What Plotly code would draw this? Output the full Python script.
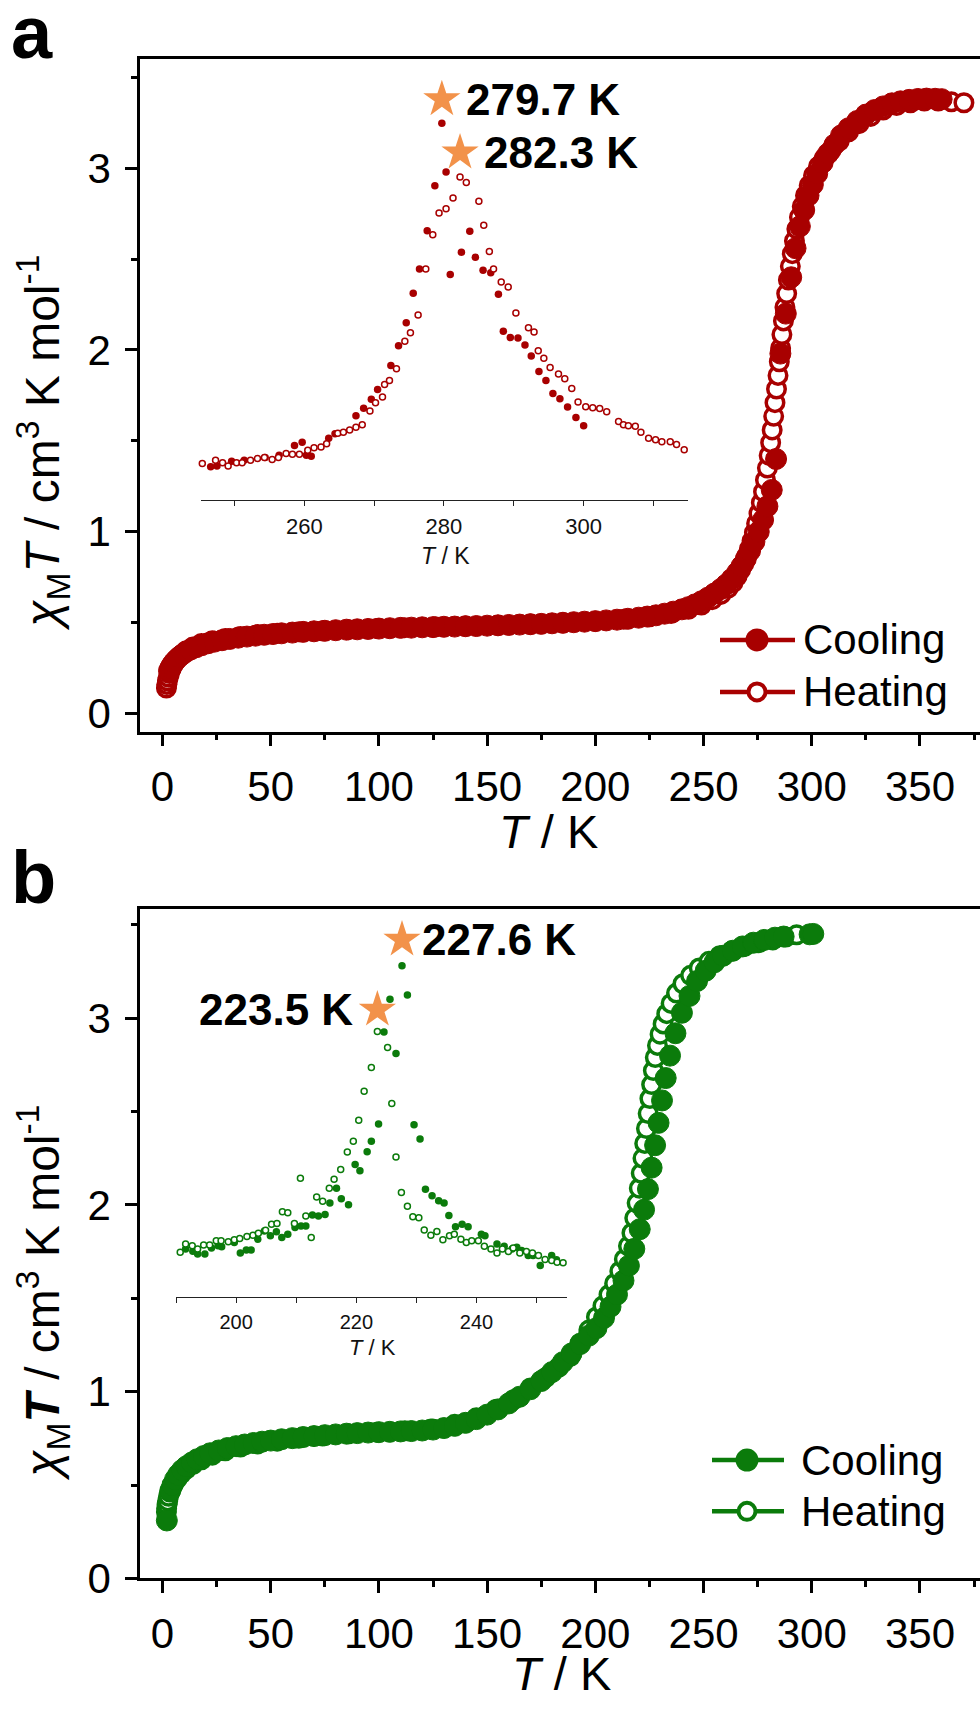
import plotly.graph_objects as go

W, H = 980, 1719
RED = "#A80000"
GREEN = "#0B7B0B"
STAR = "#F2924A"
FONT = "Liberation Sans, Arial, sans-serif"


def px(x):
    return x / W


def py(y):
    return 1 - y / H


# ---------------- panel a : chi_M T vs T ----------------
a_heat_T = [1.8, 2.0, 2.3, 2.7, 3.2, 4.0, 5.0, 6.5, 8.5, 11,
            14, 18, 23, 29, 36, 44, 53, 63, 74, 86,
            99, 112, 126, 140, 155, 170, 185, 200, 213, 225,
            235, 243, 249, 254, 258, 261.4, 263.6, 265.5, 267.1, 268.6,
            269.9, 271.2, 272.4, 273.5, 274.5, 275.6, 276.7, 277.7, 278.6, 279.5,
            280.3, 281.0, 281.7, 282.4, 283.0, 283.7, 284.4, 285.0, 285.6, 286.2,
            286.9, 287.6, 288.4, 289.2, 290.1, 291.0, 292.0, 293.1, 294.3, 295.6,
            297.1, 298.8, 300.8, 303.1, 305.8, 309.0, 312.7, 317.0, 321.8, 327.2,
            333.0, 339.2, 345.6, 352.0, 358.4, 364.5, 370.3]
a_heat_v = [0.14, 0.16, 0.18, 0.2, 0.22, 0.245, 0.27, 0.295, 0.32, 0.345,
            0.365, 0.385, 0.4, 0.413, 0.424, 0.434, 0.442, 0.449, 0.455, 0.461,
            0.467, 0.472, 0.477, 0.481, 0.486, 0.492, 0.499, 0.508, 0.518, 0.532,
            0.55, 0.573, 0.597, 0.626, 0.655, 0.69, 0.72, 0.755, 0.79, 0.825,
            0.865, 0.905, 0.95, 0.995, 1.045, 1.1, 1.16, 1.22, 1.285, 1.35,
            1.42, 1.49, 1.56, 1.635, 1.71, 1.785, 1.86, 1.935, 2.01, 2.085,
            2.16, 2.235, 2.31, 2.385, 2.46, 2.53, 2.6, 2.665, 2.73, 2.79,
            2.85, 2.905, 2.96, 3.01, 3.055, 3.1, 3.15, 3.2, 3.245, 3.285,
            3.32, 3.345, 3.36, 3.37, 3.37, 3.365, 3.36]

a_cool_T = [3.0, 3.6, 4.3, 5.2, 6.3, 7.6, 9.2, 11, 13, 15.5,
            18, 21, 24, 27.5, 31, 35, 39, 43, 47, 51,
            55, 60, 65, 70, 75, 80, 85, 90, 95, 100,
            105, 110, 115, 120, 125, 130, 135, 140, 145, 150,
            155, 160, 165, 170, 175, 180, 185, 190, 195, 200,
            205, 210, 215, 220, 224, 228, 232, 236, 240, 243,
            246, 249, 252, 255, 258, 260.5, 263, 265.5, 267.5, 269.5,
            271.5, 273.5, 275.5, 277.5, 279.5, 281.5, 283.5, 285.5, 288, 290.5,
            292.5, 294.5, 296.5, 298.5, 300.5, 302.5, 305, 307.5, 310.5, 313.5,
            317, 321, 325, 329, 333, 337, 341, 345, 349, 353,
            357, 360]
a_cool_v = [0.235, 0.25, 0.265, 0.28, 0.295, 0.31, 0.325, 0.34, 0.352, 0.364,
            0.375, 0.386, 0.395, 0.403, 0.41, 0.417, 0.423, 0.428, 0.433, 0.437,
            0.441, 0.445, 0.449, 0.452, 0.455, 0.458, 0.461, 0.463, 0.465, 0.467,
            0.469, 0.471, 0.472, 0.474, 0.475, 0.477, 0.478, 0.48, 0.481, 0.483,
            0.485, 0.487, 0.489, 0.491, 0.493, 0.496, 0.499, 0.502, 0.505, 0.508,
            0.512, 0.516, 0.521, 0.527, 0.533, 0.54, 0.549, 0.56, 0.573, 0.585,
            0.6, 0.617, 0.637, 0.66, 0.685, 0.71, 0.74, 0.775, 0.81, 0.85,
            0.895, 0.945, 1.0, 1.065, 1.14, 1.23, 1.4, 1.98, 2.2, 2.4,
            2.56, 2.68, 2.77, 2.85, 2.91, 2.97, 3.03, 3.08, 3.13, 3.18,
            3.22, 3.26, 3.295, 3.32, 3.34, 3.357, 3.368, 3.376, 3.381, 3.383,
            3.382, 3.38]

# inset a (heat-flow peaks, arbitrary units)
ia_cool_T = [246.6, 247.5, 249.6, 251.4, 254.4, 256.4, 258.6, 259.7, 260.3, 261.0,
             263.5, 264.4, 267.4, 268.5, 269.6, 270.5, 272.4, 273.5, 274.6, 275.6,
             276.5, 277.6, 278.7, 279.7, 280.3, 280.9, 282.5, 283.7, 284.5, 285.6,
             286.7, 287.8, 288.5, 289.5, 290.6, 291.6, 292.5, 293.6, 294.6, 295.6,
             296.6, 297.7, 298.9, 300.0]
ia_cool_v = [0.333, 0.34, 0.39, 0.40, 0.427, 0.45, 0.55, 0.583, 0.45, 0.44,
             0.623, 0.667, 0.85, 0.927, 1.017, 1.117, 1.36, 1.56, 1.793, 2.093,
             2.34, 2.727, 3.183, 3.817, 3.323, 2.283, 2.51, 2.723, 2.457, 2.327,
             2.3, 2.083, 1.707, 1.643, 1.64, 1.567, 1.457, 1.3, 1.207, 1.077,
             1.023, 0.94, 0.833, 0.75]
ia_heat_T = [245.4, 247.3, 248.3, 249.1, 250.3, 251.1, 252.3, 253.3, 254.3, 255.4,
             256.3, 257.4, 258.3, 259.3, 260.5, 261.4, 262.4, 263.2, 264.8, 265.6,
             266.5, 267.4, 268.3, 269.4, 270.2, 271.2, 271.5, 272.2, 273.2, 274.4,
             275.2, 276.3, 277.4, 278.4, 279.3, 280.3, 281.3, 282.3, 283.2, 285.0,
             285.7, 286.5, 287.1, 288.2, 289.2, 290.3, 292.1, 292.9, 293.5, 294.3,
             295.2, 296.4, 297.3, 298.3, 299.2, 300.3, 301.3, 302.3, 303.3, 305.0,
             305.7, 306.4, 307.4, 308.2, 309.3, 310.3, 311.2, 312.4, 313.3, 314.4]
ia_heat_v = [0.367, 0.4, 0.373, 0.34, 0.373, 0.373, 0.4, 0.417, 0.427, 0.407,
             0.427, 0.467, 0.46, 0.46, 0.5, 0.527, 0.533, 0.567, 0.673, 0.683,
             0.707, 0.733, 0.76, 0.9, 0.983, 1.04, 1.167, 1.207, 1.327, 1.607,
             1.693, 1.873, 2.34, 2.687, 2.907, 2.95, 3.06, 3.273, 3.217, 3.027,
             2.783, 2.517, 2.34, 2.207, 2.157, 1.893, 1.743, 1.7, 1.51, 1.433,
             1.34, 1.273, 1.227, 1.127, 0.99, 0.943, 0.933, 0.923, 0.89, 0.793,
             0.76, 0.75, 0.743, 0.683, 0.623, 0.607, 0.587, 0.587, 0.56, 0.507]
ia_peak_T = [279.7, 282.3]
ia_peak_v = [4.06, 3.52]

# ---------------- panel b ----------------
b_heat_T = [1.8, 1.9, 2.1, 2.4, 2.8, 3.4, 4.2, 5.3, 6.8, 8.6,
            11, 14, 18, 23, 29, 36, 44, 53, 63, 74,
            86, 99, 112, 124, 135, 145, 154, 162, 170, 177,
            183, 188.5, 193, 197, 200.5, 203.5, 206.3, 208.9, 211.3, 213.4,
            215.3, 216.9, 218.2, 219.3, 220.3, 221.2, 222.0, 222.8, 223.6, 224.4,
            225.2, 226.0, 226.8, 227.7, 228.7, 229.9, 231.3, 233.0, 235.0, 237.5,
            240.5, 244, 248, 252.5, 257.5, 263, 269, 275.5, 282, 288,
            293]
b_heat_v = [0.355, 0.375, 0.395, 0.415, 0.44, 0.462, 0.485, 0.51, 0.535, 0.56,
            0.585, 0.61, 0.635, 0.66, 0.683, 0.703, 0.72, 0.735, 0.75, 0.763,
            0.774, 0.783, 0.79, 0.8, 0.825, 0.86, 0.905, 0.955, 1.02, 1.075,
            1.13, 1.19, 1.26, 1.33, 1.4, 1.46, 1.52, 1.58, 1.645, 1.71,
            1.78, 1.85, 1.93, 2.01, 2.09, 2.17, 2.25, 2.33, 2.41, 2.49,
            2.57, 2.645, 2.72, 2.79, 2.855, 2.915, 2.97, 3.025, 3.08, 3.135,
            3.185, 3.23, 3.27, 3.305, 3.335, 3.36, 3.385, 3.405, 3.42, 3.435,
            3.447]

b_cool_T = [2.0, 3.6, 4.6, 5.8, 7.2, 9, 11, 13.5, 16, 19,
            22, 26, 30, 34, 38, 42, 46, 50, 55, 60,
            65, 70, 75, 80, 85, 90, 95, 100, 105, 110,
            115, 120, 125, 130, 135, 140, 145, 150, 155, 160,
            165, 170, 175, 180, 185, 189, 193, 197, 200.5, 204,
            207, 210, 213, 215.5, 218, 220.5, 222.5, 224.3, 226, 227.6,
            229.2, 230.8, 232.5, 234.5, 237, 240, 243.5, 247, 251, 255,
            259, 263.5, 268, 273, 278, 283, 287, 299, 300.7]
b_cool_v = [0.31, 0.47, 0.5, 0.53, 0.555, 0.58, 0.6, 0.62, 0.638, 0.655,
            0.67, 0.685, 0.698, 0.708, 0.717, 0.725, 0.732, 0.738, 0.745, 0.751,
            0.757, 0.762, 0.767, 0.771, 0.775, 0.778, 0.781, 0.783, 0.785, 0.787,
            0.789, 0.792, 0.797, 0.805, 0.817, 0.833, 0.853, 0.877, 0.905, 0.937,
            0.973, 1.013, 1.057, 1.105, 1.158, 1.205, 1.255, 1.3, 1.34, 1.395,
            1.455, 1.52, 1.595, 1.675, 1.765, 1.87, 1.975, 2.085, 2.2, 2.32,
            2.44, 2.56, 2.68, 2.8, 2.92, 3.03, 3.12, 3.2, 3.255, 3.3,
            3.335, 3.362, 3.385, 3.405, 3.42, 3.432, 3.438, 3.45, 3.452]

ib_cool_T = [191.6, 192.8, 193.6, 194.8, 195.9, 197.0, 197.6, 199.7, 200.7, 201.7,
             202.5, 203.6, 204.7, 205.7, 206.7, 207.6, 208.6, 209.8, 210.8, 211.6,
             212.7, 213.7, 214.8, 215.6, 216.7, 217.5, 218.7, 219.8, 220.6, 221.8,
             222.5, 223.7, 224.6, 225.6, 226.6, 227.6, 228.5, 229.6, 230.6, 231.5,
             232.6, 233.7, 234.6, 235.4, 236.5, 237.6, 238.6, 240.8, 241.4, 243.4,
             244.6, 245.9, 246.7, 247.5, 248.6, 249.4, 250.6, 252.5, 253.3]
ib_cool_v = [0.483, 0.46, 0.433, 0.433, 0.493, 0.517, 0.507, 0.55, 0.443, 0.473,
             0.473, 0.583, 0.667, 0.617, 0.657, 0.6, 0.633, 0.7, 0.717, 0.717,
             0.827, 0.817, 0.833, 0.95, 1.1, 0.993, 0.933, 1.34, 1.277, 1.47,
             1.577, 1.75, 2.683, 3.017, 2.467, 3.357, 3.06, 1.743, 1.6, 1.09,
             1.023, 0.973, 0.95, 0.823, 0.71, 0.733, 0.71, 0.633, 0.617, 0.533,
             0.51, 0.483, 0.5, 0.467, 0.417, 0.417, 0.317, 0.417, 0.373]
ib_heat_T = [190.7, 191.6, 192.7, 193.6, 194.6, 195.6, 196.7, 197.5, 198.7, 199.7,
             200.6, 201.8, 202.8, 203.7, 204.9, 205.9, 206.8, 207.7, 208.6, 209.7,
             210.7, 211.6, 212.5, 213.4, 214.4, 215.5, 216.3, 217.4, 218.5, 219.5,
             220.4, 221.3, 222.5, 223.5, 225.2, 225.9, 226.6, 227.5, 228.5, 229.4,
             230.4, 231.3, 232.4, 233.4, 234.4, 235.5, 236.3, 237.4, 238.3, 239.2,
             240.3, 241.3, 242.4, 243.4, 244.3, 245.3, 246.1, 247.2, 248.3, 249.3,
             250.3, 251.4, 252.5, 253.4, 254.4]
ib_heat_v = [0.45, 0.533, 0.517, 0.483, 0.523, 0.523, 0.567, 0.567, 0.557, 0.577,
             0.59, 0.61, 0.623, 0.643, 0.673, 0.733, 0.743, 0.86, 0.85, 0.743,
             1.2, 0.817, 0.6, 1.01, 0.967, 1.1, 1.19, 1.29, 1.467, 1.577,
             1.79, 2.083, 2.323, 2.69, 2.527, 1.96, 1.417, 1.057, 0.917, 0.81,
             0.8, 0.677, 0.623, 0.66, 0.577, 0.617, 0.633, 0.583, 0.55, 0.567,
             0.567, 0.51, 0.483, 0.443, 0.483, 0.457, 0.493, 0.443, 0.457, 0.443,
             0.417, 0.377, 0.367, 0.35, 0.343]
ib_peak_T = [227.6, 223.5]
ib_peak_v = [3.62, 2.91]

x_ticks = [0, 50, 100, 150, 200, 250, 300, 350]
y_ticks = [0, 1, 2, 3]

fig = go.Figure()


def big_open(x, y, xa, ya, color):
    return go.Scatter(x=x, y=y, mode="markers", xaxis=xa, yaxis=ya,
                      marker=dict(symbol="circle", size=17.5, color="white",
                                  line=dict(color=color, width=3.5)),
                      showlegend=False, hoverinfo="skip")


def big_fill(x, y, xa, ya, color):
    return go.Scatter(x=x, y=y, mode="markers", xaxis=xa, yaxis=ya,
                      marker=dict(symbol="circle", size=21, color=color,
                                  line=dict(color=color, width=1)),
                      showlegend=False, hoverinfo="skip")


def small_fill(x, y, xa, ya, color):
    return go.Scatter(x=x, y=y, mode="markers", xaxis=xa, yaxis=ya, cliponaxis=False,
                      marker=dict(symbol="circle", size=7.5, color=color, line=dict(width=0)),
                      showlegend=False, hoverinfo="skip")


def small_open(x, y, xa, ya, color):
    return go.Scatter(x=x, y=y, mode="markers", xaxis=xa, yaxis=ya, cliponaxis=False,
                      marker=dict(symbol="circle", size=6, color="white",
                                  line=dict(color=color, width=1.5)),
                      showlegend=False, hoverinfo="skip")


def stars(x, y, xa, ya):
    return go.Scatter(x=x, y=y, mode="markers", xaxis=xa, yaxis=ya, cliponaxis=False,
                      marker=dict(symbol="star", size=28, color=STAR, line=dict(width=0)),
                      showlegend=False, hoverinfo="skip")


# main curves: heating drawn first, cooling on top
fig.add_trace(big_open(a_heat_T, a_heat_v, "x", "y", RED))
fig.add_trace(big_fill(a_cool_T, a_cool_v, "x", "y", RED))
fig.add_trace(big_open(b_heat_T, b_heat_v, "x2", "y2", GREEN))
fig.add_trace(big_fill(b_cool_T, b_cool_v, "x2", "y2", GREEN))

# insets
fig.add_trace(small_fill(ia_cool_T, ia_cool_v, "x3", "y3", RED))
fig.add_trace(small_open(ia_heat_T, ia_heat_v, "x3", "y3", RED))
fig.add_trace(stars(ia_peak_T, ia_peak_v, "x3", "y3"))
fig.add_trace(small_fill(ib_cool_T, ib_cool_v, "x4", "y4", GREEN))
fig.add_trace(small_open(ib_heat_T, ib_heat_v, "x4", "y4", GREEN))
fig.add_trace(stars(ib_peak_T, ib_peak_v, "x4", "y4"))

tick_font = dict(family=FONT, size=42, color="black")


def main_x(anchor):
    return dict(domain=[px(140), 1.0], range=[-10.4, 377.73], anchor=anchor,
                showline=True, linewidth=2.5, linecolor="black", mirror=True,
                ticks="outside", ticklen=12, tickwidth=2.5, tickcolor="black",
                tickvals=x_ticks, ticktext=[str(v) for v in x_ticks],
                minor=dict(ticks="outside", dtick=25, tick0=0, ticklen=6,
                           tickwidth=2.5, tickcolor="black"),
                showgrid=False, zeroline=False, tickfont=tick_font,
                ticklabelstandoff=4)


def main_y(anchor, dom, rng):
    return dict(domain=dom, range=rng, anchor=anchor,
                showline=True, linewidth=2.5, linecolor="black", mirror=False,
                ticks="outside", ticklen=12, tickwidth=2.5, tickcolor="black",
                tickvals=y_ticks, ticktext=[str(v) for v in y_ticks],
                minor=dict(ticks="outside", dtick=0.5, tick0=0, ticklen=6,
                           tickwidth=2.5, tickcolor="black"),
                showgrid=False, zeroline=False, tickfont=tick_font,
                ticklabelstandoff=6)


def inset_x(anchor, dom, rng, fs, ticks):
    return dict(domain=dom, range=rng, anchor=anchor,
                showline=True, linewidth=1.3, linecolor="#222222",
                ticks="outside", ticklen=5, tickwidth=1.3, tickcolor="#222222",
                tickvals=ticks, ticktext=[str(v) for v in ticks],
                minor=dict(ticks="outside", dtick=10, tick0=0, ticklen=5,
                           tickwidth=1.3, tickcolor="#222222"),
                showgrid=False, zeroline=False,
                tickfont=dict(family=FONT, size=fs, color="#111111"),
                ticklabelstandoff=2)


fig.update_layout(
    width=W, height=H,
    margin=dict(l=0, r=0, t=0, b=0),
    paper_bgcolor="white", plot_bgcolor="rgba(0,0,0,0)",
    font=dict(family=FONT, color="black"),
    showlegend=False,
    xaxis=main_x("y"),
    yaxis=main_y("x", [py(742), py(60)], [-0.1, 3.6]),
    xaxis2=main_x("y2"),
    yaxis2=main_y("x2", [py(1600.7), py(921.6)], [0, 3.587]),
    xaxis3=inset_x("y3", [px(200.9), px(688.4)], [245.2, 315], 22, [260, 280, 300]),
    yaxis3=dict(domain=[py(506.7), py(56.7)], range=[0, 4.5], anchor="x3", visible=False),
    xaxis4=inset_x("y4", [px(176), px(566.7)], [190, 255], 20, [200, 220, 240]),
    yaxis4=dict(domain=[py(1315), py(915)], range=[0, 4], anchor="x4", visible=False),
)

ann = []
shapes = []

# panel letters
ann.append(dict(text="<b>a</b>", x=px(9), y=py(33), xref="paper", yref="paper",
                xanchor="left", yanchor="middle", showarrow=False,
                font=dict(size=74, family=FONT, color="black")))
ann.append(dict(text="<b>b</b>", x=px(9), y=py(890), xref="paper", yref="paper",
                xanchor="left", yanchor="middle", showarrow=False,
                font=dict(size=74, family=FONT, color="black")))

# axis titles
ytitle_a = "<i>χ</i><sub>M</sub><i>T</i> / cm<sup>3</sup> K mol<sup>-1</sup>"
ytitle_b = "<i>χ</i><sub>M</sub><b><i>T</i></b> / cm<sup>3</sup> K mol<sup>-1</sup>"
for txt, yc in [(ytitle_a, 449), (ytitle_b, 1311)]:
    ann.append(dict(text=txt, x=px(43), y=py(yc), xref="paper", yref="paper",
                    xanchor="center", yanchor="middle", textangle=-90, showarrow=False,
                    font=dict(size=48, family=FONT, color="black")))
for xc, yc in [(548, 843), (561, 1697)]:
    ann.append(dict(text="<i>T</i> / K", x=px(xc), y=py(yc), xref="paper", yref="paper",
                    xanchor="center", yanchor="middle", showarrow=False,
                    font=dict(size=47, family=FONT, color="black")))
# inset titles
ann.append(dict(text="<i>T</i> / K", x=px(445), y=py(564), xref="paper", yref="paper",
                xanchor="center", yanchor="middle", showarrow=False,
                font=dict(size=23, family=FONT, color="#111111")))
ann.append(dict(text="<i>T</i> / K", x=px(372), y=py(1367), xref="paper", yref="paper",
                xanchor="center", yanchor="middle", showarrow=False,
                font=dict(size=22, family=FONT, color="#111111")))

# peak labels
star_font = dict(size=44, family=FONT, color="black")
ann.append(dict(text="<b>%.1f K</b>" % ia_peak_T[0], x=ia_peak_T[0], y=ia_peak_v[0],
                xref="x3", yref="y3", xanchor="left", yanchor="middle", xshift=22,
                showarrow=False, font=star_font))
ann.append(dict(text="<b>%.1f K</b>" % ia_peak_T[1], x=ia_peak_T[1], y=ia_peak_v[1],
                xref="x3", yref="y3", xanchor="left", yanchor="middle", xshift=22,
                showarrow=False, font=star_font))
ann.append(dict(text="<b>%.1f K</b>" % ib_peak_T[0], x=ib_peak_T[0], y=ib_peak_v[0],
                xref="x4", yref="y4", xanchor="left", yanchor="middle", xshift=18,
                showarrow=False, font=star_font))
ann.append(dict(text="<b>%.1f K</b>" % ib_peak_T[1], x=ib_peak_T[1], y=ib_peak_v[1],
                xref="x4", yref="y4", xanchor="right", yanchor="middle", xshift=-22,
                showarrow=False, font=star_font))


# legend blocks
def legend_block(color, x_line0, x_line1, x_mark, x_text, y_cool, y_heat):
    for yv, filled, label in [(y_cool, True, "Cooling"), (y_heat, False, "Heating")]:
        shapes.append(dict(type="line", xref="paper", yref="paper",
                           x0=px(x_line0), x1=px(x_line1), y0=py(yv), y1=py(yv),
                           line=dict(color=color, width=4.5)))
        if filled:
            shapes.append(dict(type="circle", xref="paper", yref="paper",
                               xsizemode="pixel", ysizemode="pixel",
                               xanchor=px(x_mark), yanchor=py(yv),
                               x0=-11.5, x1=11.5, y0=-11.5, y1=11.5,
                               fillcolor=color, line=dict(color=color, width=0)))
        else:
            shapes.append(dict(type="circle", xref="paper", yref="paper",
                               xsizemode="pixel", ysizemode="pixel",
                               xanchor=px(x_mark), yanchor=py(yv),
                               x0=-8.5, x1=8.5, y0=-8.5, y1=8.5,
                               fillcolor="white", line=dict(color=color, width=4)))
        ann.append(dict(text=label, x=px(x_text), y=py(yv), xref="paper", yref="paper",
                        xanchor="left", yanchor="middle", showarrow=False,
                        font=dict(size=42, family=FONT, color="black")))


legend_block(RED, 720, 795, 757, 801, 649, 701.7)
legend_block(GREEN, 712, 784, 747, 799, 1480.7, 1532.7)

fig.update_layout(annotations=ann, shapes=shapes)

fig.write_html("out.html")
